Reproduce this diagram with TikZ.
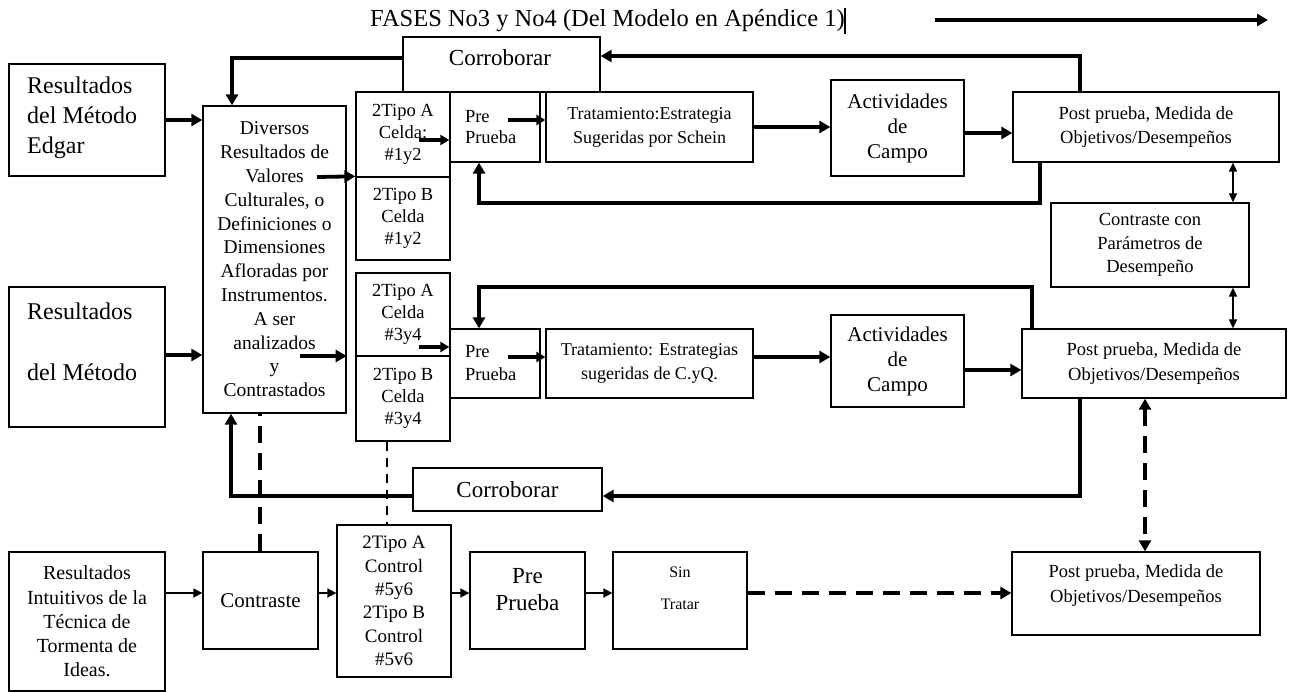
\documentclass[tikz,border=0pt]{standalone}
\usepackage{fontspec}
\setmainfont{Liberation Serif}
\usetikzlibrary{arrows.meta}
\newcommand\fz[2]{\fontsize{#1}{#2}\selectfont}
\newcommand\bx[7]{\node[box, minimum width={(#4-#2)*1pt}, minimum height={(#5-#3)*1pt}, font={#6}] (#1) at ({(#2+#4)/2},{(#3+#5)/2}) {#7};}
\tikzset{
 box/.style={draw, line width=1.3pt, inner sep=0pt, align=center},
 txt/.style={inner sep=0pt, align=center},
 thk/.style={line width=3.8pt, -{Triangle[length=11pt,width=12pt]}},
 mid/.style={line width=3.2pt, -{Triangle[length=9pt,width=10pt]}},
 thn/.style={line width=1.7pt, -{Triangle[length=9pt,width=9pt]}},
 dbl/.style={line width=1.3pt, {Triangle[length=9pt,width=8pt]}-{Triangle[length=9pt,width=8pt]}},
 dsh/.style={line width=3.8pt, dash pattern=on 17pt off 10pt},
 dsha/.style={dsh, -{Triangle[length=11pt,width=12pt]}},
 dshdbl/.style={dsh, {Triangle[length=11pt,width=12pt]}-{Triangle[length=11pt,width=12pt]}},
 dshthin/.style={line width=2pt, dash pattern=on 9pt off 7pt},
}
\begin{document}
\begin{tikzpicture}[x=1pt,y=-1pt]
\useasboundingbox (0,0) rectangle (1292,692);
% title
\node[txt, anchor=west, font=\fz{24.5}{28}] (title) at (370,21) {FASES No3 y No4 (Del Modelo en Apéndice 1)};
\draw[line width=1.5pt] (845,8) -- (845,34);
\coordinate (ta1) at (935,20);
\coordinate (ta2) at (1268,20);
\draw[thk] (ta1) -- (ta2);
% left column
\bx{edgar}{9}{64}{165}{176}{\fz{24}{30}}{}
\node[txt, anchor=west, align=left, font=\fz{24}{30}] (edgart) at (27,118) {Resultados\\del Método\\Edgar};
\bx{res2}{9}{287}{165}{427}{\fz{24}{61}}{}
\node[txt, anchor=west, align=left, font=\fz{24}{61}] (res2t) at (27,341.5) {Resultados\\del Método};
\bx{left3}{9}{552}{165}{691}{\fz{20}{24.3}}{Resultados\\Intuitivos de la\\Técnica de\\Tormenta de\\Ideas.}
\bx{div}{203}{106}{346}{413}{\fz{19.5}{23.8}}{Diversos\\Resultados de\\Valores\\Culturales, o\\Definiciones o\\Dimensiones\\Afloradas por\\Instrumentos.\\A ser\\analizados\\y\\Contrastados}
% top corroborar
\bx{ctop}{403}{37}{600}{92}{\fz{23}{27}}{}
\node[txt, font=\fz{23}{27}] (ctopt) at (500,58) {Corroborar};
% row 1
\bx{ca1}{356}{92}{450}{177}{\fz{18.5}{22}}{2Tipo A\\Celda:\\\#1y2}
\bx{cb1}{356}{177}{450}{260}{\fz{18.5}{22}}{2Tipo B\\Celda\\\#1y2}
\node[box, minimum width=90pt, minimum height=70pt, text width=60pt, align=left, font=\fz{18.5}{21}] (pre1) at (495,127) {Pre\\Prueba};
\bx{trat1}{546}{92}{753}{162}{\fz{18}{24}}{Tratamiento:Estrategia\\Sugeridas por Schein}
\bx{act1}{831}{80}{964}{176}{\fz{21}{25}}{Actividades\\de\\Campo}
\bx{post1}{1013}{92}{1279}{162}{\fz{18.5}{24.5}}{Post prueba, Medida de\\Objetivos/Desempeños}
\bx{conp}{1051}{203}{1249}{287}{\fz{18.5}{23.5}}{Contraste con\\Parámetros de\\Desempeño}
% row 2
\bx{ca2}{356}{273}{450}{356}{\fz{18.5}{22}}{2Tipo A\\Celda\\\#3y4}
\bx{cb2}{356}{356}{450}{441}{\fz{18.5}{22}}{2Tipo B\\Celda\\\#3y4}
\node[box, minimum width=90pt, minimum height=69pt, text width=60pt, align=left, font=\fz{18.5}{23}] (pre2) at (495,363.5) {Pre\\Prueba};
\bx{trat2}{546}{329}{753}{398}{\fz{18}{24}}{Tratamiento: Estrategias\\sugeridas de C.yQ.}
\bx{act2}{831}{315}{964}{407}{\fz{21}{25}}{Actividades\\de\\Campo}
\bx{post2}{1022}{329}{1286}{398}{\fz{18.5}{25}}{Post prueba, Medida de\\Objetivos/Desempeños}
% bottom corroborar
\bx{cbot}{413}{468}{602}{511}{\fz{23}{27}}{Corroborar}
% row 3
\bx{cont}{203}{552}{318}{649}{\fz{21}{25}}{Contraste}
\bx{ctrl}{337}{525}{451}{677}{\fz{19}{23.4}}{2Tipo A\\Control\\\#5y6\\2Tipo B\\Control\\\#5v6}
\bx{pre3}{470}{552}{585}{649}{\fz{23}{27}}{}
\node[txt, font=\fz{23}{27}] (pre3t) at (527.5,589.5) {Pre\\Prueba};
\bx{sin}{613}{552}{747}{649}{\fz{16}{32}}{}
\node[txt, font=\fz{16}{32}] (sint) at (680,588) {Sin\\Tratar};
\bx{post3}{1012}{552}{1260}{635}{\fz{18.5}{25}}{}
\node[txt, font=\fz{18.5}{25}] (post3t) at (1136,585.5) {Post prueba, Medida de\\Objetivos/Desempeños};
% connectors
\draw[thk] (edgar.east |- 0,120) -- (div.west |- 0,120);
\draw[thk] (res2.east |- 0,355) -- (div.west |- 0,355);
\draw[thn] (left3.east |- 0,593) -- (cont.west |- 0,593);
\coordinate (d1) at (317,177);
\draw[thk] (d1) -- (cb1.north west);
\coordinate (d2) at (300,356);
\draw[thk] (d2) -- (div.east |- d2);
\coordinate (c1) at (419,140);
\draw[mid] (c1) -- (pre1.west |- c1);
\coordinate (p1) at (508,120);
\draw[mid] (p1) -- (trat1.west |- p1);
\draw[thk] (trat1.east |- 0,127) -- (act1.west |- 0,127);
\draw[thk] (act1.east |- 0,133) -- (post1.west |- 0,133);
\draw[thk] (post1.south -| 1040,0) |- (479,203) -- (pre1.south -| 479,0);
\draw[thk] (post1.north -| 1080,0) |- (ctop.east |- 0,56);
\draw[thk] (ctop.west |- 0,58) -| (div.north -| 232,0);
\draw[dbl] (post1.south -| 1233,0) -- (conp.north -| 1233,0);
\draw[dbl] (conp.south -| 1233,0) -- (post2.north -| 1233,0);
\draw[thk] (post2.north -| 1032,0) |- (479,287) -- (pre2.north -| 479,0);
\coordinate (c2) at (419,347);
\draw[mid] (c2) -- (pre2.west |- c2);
\coordinate (p2) at (508,357);
\draw[mid] (p2) -- (trat2.west |- p2);
\draw[thk] (trat2.east |- 0,357) -- (act2.west |- 0,357);
\draw[thk] (act2.east |- 0,370) -- (post2.west |- 0,370);
\draw[thk] (post2.south -| 1080,0) |- (cbot.east |- 0,496);
\draw[thk] (cbot.west |- 0,496) -| (div.south -| 231,0);
\draw[dsh] (cont.north -| 260,0) -- (div.south -| 260,0);
\draw[dshthin] (cb2.south -| 387,0) -- (ctrl.north -| 387,0);
\draw[thn] (cont.east |- 0,593) -- (ctrl.west |- 0,593);
\draw[thn] (ctrl.east |- 0,593) -- (pre3.west |- 0,593);
\draw[thn] (pre3.east |- 0,593) -- (sin.west |- 0,593);
\draw[dsha] (sin.east |- 0,593) -- (post3.west |- 0,593);
\draw[dshdbl] (post2.south -| 1145,0) -- (post3.north -| 1145,0);
\end{tikzpicture}
\end{document}
